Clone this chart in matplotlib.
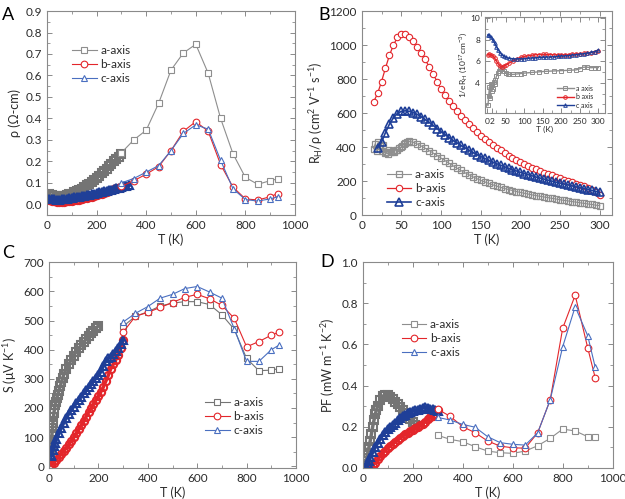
import numpy as np
import matplotlib
matplotlib.use("Agg")
import matplotlib.pyplot as plt
from matplotlib.ticker import MultipleLocator

plt.rcParams['font.family'] = ['Lato', 'DejaVu Sans']
plt.rcParams['mathtext.fontset'] = 'custom'
plt.rcParams['mathtext.rm'] = 'Lato'
plt.rcParams['mathtext.it'] = 'Lato:italic'
plt.rcParams['mathtext.default'] = 'regular'

GREY = '#8e8e8e'
GREY_D = '#747474'
RED = '#e3262b'
BLUE = '#1f3f98'
BLUE_L = '#4a6fc0'
FRAME = '#8a8a8a'
TXT = '#2b2b2b'

# ---------------- panel A: resistivity ----------------
A_T_low_a = [10, 20, 30, 40, 50, 60, 70, 80, 90, 100, 110, 120, 130, 140, 150,
             160, 170, 180, 190, 200, 210, 220, 230, 240, 250, 260, 270, 280, 290, 300]
A_rho_low_a = [0.046, 0.042, 0.039, 0.037, 0.036, 0.037, 0.039, 0.042, 0.046, 0.050,
               0.055, 0.061, 0.067, 0.073, 0.080, 0.088, 0.096, 0.105, 0.114, 0.123,
               0.133, 0.144, 0.155, 0.166, 0.178, 0.189, 0.200, 0.211, 0.222, 0.232]
A_T_low_b = A_T_low_a
A_rho_low_b = [0.018, 0.015, 0.013, 0.012, 0.011, 0.011, 0.012, 0.013, 0.014, 0.016,
               0.018, 0.020, 0.022, 0.024, 0.027, 0.030, 0.033, 0.036, 0.039, 0.042,
               0.046, 0.050, 0.054, 0.058, 0.062, 0.066, 0.070, 0.074, 0.078, 0.082]
A_T_low_c = A_T_low_a + [310, 320, 330]
A_rho_low_c = [0.026, 0.024, 0.023, 0.022, 0.022, 0.023, 0.024, 0.026, 0.028, 0.030,
               0.032, 0.034, 0.036, 0.038, 0.040, 0.042, 0.045, 0.047, 0.050, 0.052,
               0.055, 0.057, 0.060, 0.062, 0.065, 0.068, 0.071, 0.074, 0.077, 0.080,
               0.083, 0.086, 0.088]
A_T_hi = [300, 350, 400, 450, 500, 550, 600, 650, 700, 750, 800, 850, 900, 930]
A_rho_hi_a = [0.24, 0.30, 0.345, 0.47, 0.625, 0.705, 0.745, 0.61, 0.40, 0.235, 0.125, 0.093, 0.11, 0.118]
A_rho_hi_b = [0.083, 0.11, 0.14, 0.175, 0.25, 0.34, 0.385, 0.34, 0.185, 0.08, 0.025, 0.02, 0.035, 0.05]
A_rho_hi_c = [0.10, 0.12, 0.15, 0.18, 0.25, 0.33, 0.37, 0.35, 0.205, 0.072, 0.022, 0.015, 0.025, 0.035]

# ---------------- panel B: Hall mobility ----------------
B_T_a = [15, 17, 19, 21, 23, 25, 27, 29, 31, 33, 35, 37, 39, 41, 43, 45, 47, 49, 51, 53, 55, 57, 59,
         60, 65, 70, 75, 80, 85, 90, 95, 100, 105, 110, 115, 120, 125, 130, 135, 140, 145, 150,
         155, 160, 165, 170, 175, 180, 185, 190, 195, 200, 205, 210, 215, 220, 225, 230, 235,
         240, 245, 250, 255, 260, 265, 270, 275, 280, 285, 290, 295, 300]
B_mu_a = [390, 420, 378, 430, 405, 375, 410, 365, 372, 360, 382, 368, 378, 372, 385, 380, 392,
          398, 405, 415, 422, 428, 432,
          433, 428, 418, 406, 393, 379, 365, 350, 335, 320, 305, 290, 276, 262, 249, 237, 225,
          214, 204, 195, 186, 178, 170, 163, 156, 150, 144, 138, 133, 128, 123, 118, 114, 110,
          106, 102, 98, 94, 90, 86, 83, 79, 76, 72, 69, 65, 62, 58, 55]
B_T_b = [15, 20, 25, 30, 35, 40, 45, 50, 55, 60, 65, 70, 75, 80, 85, 90, 95, 100, 105, 110,
         115, 120, 125, 130, 135, 140, 145, 150, 155, 160, 165, 170, 175, 180, 185, 190, 195,
         200, 205, 210, 215, 220, 225, 230, 235, 240, 245, 250, 255, 260, 265, 270, 275, 280,
         285, 290, 295, 300]
B_mu_b = [665, 715, 785, 865, 940, 1000, 1045, 1065, 1063, 1048, 1022, 990, 955, 915, 872, 830,
          785, 740, 705, 672, 640, 610, 585, 560, 535, 512, 488, 466, 448, 430, 412, 395, 380,
          365, 350, 336, 323, 310, 299, 288, 278, 268, 259, 250, 241, 233, 225, 217, 208, 200,
          192, 185, 177, 170, 160, 150, 135, 118]
B_T_c = B_T_b[1:]
B_mu_c = [395, 430, 485, 535, 572, 597, 610, 613, 610, 602, 592, 578, 562, 545, 527, 508, 490,
          473, 456, 440, 425, 410, 396, 382, 369, 356, 344, 333, 322, 312, 302, 293, 284, 275,
          267, 259, 251, 244, 237, 230, 223, 217, 211, 205, 199, 193, 188, 182, 177, 171, 166,
          161, 156, 150, 145, 139, 133]

# inset: 1/eR_H
I_T_a = [2, 4, 6, 8, 10, 12, 14, 16, 18, 20, 22, 25, 28, 31, 35, 40, 45, 50, 55, 60, 70, 80,
         90, 100, 120, 140, 160, 180, 200, 220, 240, 250, 260, 270, 280, 290, 300]
I_n_a = [1.9, 2.8, 3.6, 2.6, 3.9, 3.2, 3.8, 3.4, 4.1, 3.9, 4.3, 4.6, 4.9, 5.1, 5.25, 5.3, 5.1,
         4.9, 4.8, 4.78, 4.78, 4.82, 4.86, 4.9, 4.96, 5.02, 5.07, 5.1, 5.13, 5.16, 5.2, 5.3,
         5.45, 5.45, 5.4, 5.42, 5.42]
I_T_bc = [2, 5, 10, 15, 20, 25, 30, 35, 40, 45, 50, 60, 70, 80, 90, 100, 110, 120, 130, 140,
          150, 160, 170, 180, 190, 200, 210, 220, 230, 240, 250, 260, 270, 280, 290, 300]
I_n_b = [6.6, 6.65, 6.6, 6.5, 6.3, 6.0, 5.75, 5.55, 5.5, 5.55, 5.65, 5.85, 6.05, 6.2, 6.35,
         6.45, 6.5, 6.55, 6.6, 6.62, 6.63, 6.63, 6.62, 6.6, 6.6, 6.6, 6.6, 6.62, 6.65, 6.68,
         6.7, 6.72, 6.75, 6.8, 6.85, 6.95]
I_n_c = [8.45, 8.4, 8.25, 8.0, 7.7, 7.35, 7.05, 6.8, 6.6, 6.45, 6.35, 6.27, 6.23, 6.22, 6.23,
         6.25, 6.27, 6.3, 6.32, 6.35, 6.37, 6.38, 6.4, 6.42, 6.45, 6.48, 6.5, 6.53, 6.57, 6.62,
         6.66, 6.7, 6.75, 6.82, 6.9, 7.05]

# ---------------- panel C: Seebeck ----------------
C_T_low_a = [4, 6, 8, 10, 12, 14, 16, 18, 20, 22, 25, 28, 31, 35, 40, 45, 50, 55, 60, 70, 80,
             90, 100, 110, 120, 130, 140, 150, 160, 170, 180, 190, 200]
C_S_low_a = [30, 50, 70, 90, 110, 130, 150, 168, 183, 196, 210, 222, 233, 245, 260, 274, 288,
             302, 315, 335, 350, 365, 380, 393, 405, 415, 425, 436, 446, 456, 465, 474, 482]
C_T_low_b = [5, 10, 20, 30, 40, 50, 60, 70, 80, 90, 100, 110, 120, 130, 140, 150, 160, 170,
             180, 190, 200, 210, 220, 230, 240, 250, 260, 270, 280, 290, 300]
C_S_low_b = [5, 6, 12, 22, 32, 42, 52, 63, 75, 87, 100, 113, 127, 141, 155, 170, 185, 200, 215,
             228, 242, 256, 272, 292, 312, 335, 350, 365, 382, 405, 435]
C_T_low_c = [8, 10, 15, 20, 25, 30, 40, 50, 60, 70, 80, 90, 100, 110, 120, 130, 140, 150, 160,
             170, 180, 190, 200, 210, 220, 230, 240, 250, 260, 270, 280, 290, 300]
C_S_low_c = [35, 40, 55, 68, 80, 92, 113, 132, 150, 166, 180, 193, 205, 217, 228, 239, 250, 261,
             272, 282, 292, 302, 312, 325, 345, 362, 370, 376, 385, 395, 407, 420, 432]
C_T_hi = [300, 350, 400, 450, 500, 550, 600, 650, 700, 750, 800, 850, 900, 930]
C_S_hi_a = [480, 515, 530, 550, 560, 565, 565, 555, 520, 470, 370, 328, 330, 335]
C_S_hi_b = [460, 515, 528, 545, 562, 580, 590, 575, 552, 508, 410, 428, 450, 460]
C_S_hi_c = [495, 525, 548, 577, 590, 610, 617, 598, 577, 472, 360, 360, 400, 415]

# ---------------- panel D: power factor ----------------
D_T_low_a = [5, 10, 15, 20, 25, 30, 35, 40, 45, 50, 55, 60, 70, 80, 90, 100, 110, 120, 130,
             140, 150, 160, 170, 180, 190, 200, 210]
D_PF_low_a = [0.0, 0.02, 0.045, 0.07, 0.10, 0.13, 0.165, 0.2, 0.23, 0.26, 0.28, 0.3, 0.33,
              0.348, 0.355, 0.352, 0.345, 0.335, 0.322, 0.31, 0.295, 0.28, 0.265, 0.25, 0.235,
              0.222, 0.21]
D_T_low_b = [30, 40, 50, 60, 70, 80, 90, 100, 110, 120, 130, 140, 150, 160, 170, 180, 190, 200,
             210, 220, 230, 240, 250, 260, 270, 280, 290, 300]
D_PF_low_b = [0.0, 0.01, 0.025, 0.04, 0.055, 0.07, 0.082, 0.095, 0.105, 0.115, 0.125, 0.135,
              0.145, 0.155, 0.163, 0.17, 0.178, 0.185, 0.193, 0.2, 0.208, 0.215, 0.222, 0.235,
              0.245, 0.25, 0.26, 0.28]
D_T_low_c = [10, 15, 20, 25, 30, 40, 50, 60, 70, 80, 90, 100, 110, 120, 130, 140, 150, 160,
             170, 180, 190, 200, 210, 220, 230, 240, 250, 260, 270, 280, 290, 300]
D_PF_low_c = [0.0, 0.01, 0.02, 0.035, 0.05, 0.075, 0.1, 0.12, 0.14, 0.16, 0.175, 0.19, 0.2,
              0.21, 0.22, 0.23, 0.24, 0.25, 0.258, 0.265, 0.27, 0.275, 0.279, 0.283, 0.287,
              0.29, 0.295, 0.292, 0.288, 0.285, 0.28, 0.275]
D_T_hi = [300, 350, 400, 450, 500, 550, 600, 650, 700, 750, 800, 850, 900, 930]
D_PF_hi_a = [0.158, 0.138, 0.127, 0.102, 0.081, 0.073, 0.07, 0.081, 0.107, 0.143, 0.188, 0.179, 0.151, 0.148]
D_PF_hi_b = [0.285, 0.25, 0.2, 0.17, 0.13, 0.105, 0.097, 0.095, 0.17, 0.33, 0.679, 0.84, 0.584, 0.438]
D_PF_hi_c = [0.245, 0.232, 0.211, 0.197, 0.151, 0.122, 0.114, 0.11, 0.17, 0.33, 0.589, 0.784, 0.643, 0.49]

labels = ['a-axis', 'b-axis', 'c-axis']
markers = ['s', 'o', '^']
colors = [GREY, RED, BLUE_L]
dense_colors = [GREY_D, RED, BLUE]


def style(ax, xmaj, xmin, ymaj, ymin, fs=8.5):
    for s in ax.spines.values():
        s.set_color(FRAME)
        s.set_linewidth(0.8)
    ax.tick_params(which='both', direction='in', top=True, right=True, color=FRAME,
                   labelcolor=TXT, labelsize=fs)
    ax.tick_params(which='major', length=3.5, width=0.7)
    ax.tick_params(which='minor', length=2, width=0.6)
    ax.xaxis.set_major_locator(MultipleLocator(xmaj))
    ax.xaxis.set_minor_locator(MultipleLocator(xmin))
    ax.yaxis.set_major_locator(MultipleLocator(ymaj))
    ax.yaxis.set_minor_locator(MultipleLocator(ymin))


def dense(ax, T, v, c, m, ms=5.2):
    # measured low-T series: overlapping open symbols look like a thick band
    ax.plot(T, v, color=c, lw=2.5, marker=m, ms=ms, mfc='none', mec=c, mew=1.5)


def hi(ax, T, v, c, m, lab, ms=4.8):
    ax.plot(T, v, color=c, lw=0.8, marker=m, ms=ms, mfc='white', mec=c, mew=0.8, label=lab)


def legend(ax, x0, yc, fs=8.5):
    ax.legend(loc='center left', bbox_to_anchor=(x0, yc), frameon=False, fontsize=fs,
              borderpad=0, borderaxespad=0, handlelength=2.1, handletextpad=0.3,
              labelspacing=0.25, labelcolor=TXT)


fig = plt.figure(figsize=(6.25, 4.99), dpi=100)

# A
axA = fig.add_axes([0.0752, 0.5691, 0.3968, 0.4088])
for T, v, c, m in zip([A_T_low_a, A_T_low_b, A_T_low_c], [A_rho_low_a, A_rho_low_b, A_rho_low_c],
                      dense_colors, markers):
    dense(axA, T, v, c, m)
for v, c, m, lab in zip([A_rho_hi_a, A_rho_hi_b, A_rho_hi_c], colors, markers, labels):
    hi(axA, A_T_hi, v, c, m, lab)
axA.set_xlim(0, 1000)
axA.set_ylim(-0.05, 0.9)
style(axA, 200, 100, 0.1, 0.05)
axA.set_xlabel('T (K)', fontsize=9, color=TXT, labelpad=2)
axA.set_ylabel('ρ (Ω-cm)', fontsize=9, color=TXT, labelpad=3)
legend(axA, 0.1, 0.739)

# B
axB = fig.add_axes([0.5787, 0.5691, 0.4, 0.4088])
axB.plot(B_T_a, B_mu_a, color=GREY, lw=0.8, marker='s', ms=4.3, mfc='none', mec=GREY, mew=0.9,
         label='a-axis')
axB.plot(B_T_b, B_mu_b, color=RED, lw=0.9, marker='o', ms=4.6, mfc='white', mec=RED, mew=0.8,
         label='b-axis')
axB.plot(B_T_c, B_mu_c, color=BLUE, lw=1.2, marker='^', ms=5.4, mfc='none', mec=BLUE, mew=1.2,
         label='c-axis')
axB.set_xlim(0, 315)
axB.set_ylim(0, 1200)
style(axB, 50, 25, 200, 100)
axB.set_xlabel('T (K)', fontsize=9, color=TXT, labelpad=2)
axB.set_ylabel(r'R$_H$/ρ (cm$^2$ V$^{-1}$ s$^{-1}$)', fontsize=9, color=TXT, labelpad=3)
legend(axB, 0.1, 0.131)

# inset
axI = fig.add_axes([0.776, 0.7735, 0.192, 0.1924])
for T, v, c, m, lab in zip([I_T_a, I_T_bc, I_T_bc], [I_n_a, I_n_b, I_n_c], [GREY, RED, BLUE],
                           markers, ['a axis', 'b axis', 'c axis']):
    axI.plot(T, v, color=c, lw=1.0, marker=m, ms=2.6, mfc='none', mec=c, mew=0.7, label=lab)
axI.set_xlim(-6, 318)
axI.set_ylim(1.2, 10.1)
style(axI, 50, 25, 2, 1, fs=6)
axI.set_xticks([0, 13, 50, 100, 150, 200, 250, 300])
axI.set_xticklabels(['0', '2', '50', '100', '150', '200', '250', '300'])
axI.set_yticks([4, 6, 8, 10])
axI.set_xlabel('T (K)', fontsize=6, color=TXT, labelpad=1)
axI.set_ylabel(r'1/eR$_H$ (10$^{17}$cm$^{-3}$)', fontsize=6, color=TXT, labelpad=1)
axI.legend(loc='center left', bbox_to_anchor=(0.6, 0.17), frameon=False, fontsize=5,
           borderpad=0, borderaxespad=0, handlelength=2.4, handletextpad=0.3,
           labelspacing=0.2, labelcolor=TXT)

# C
axC = fig.add_axes([0.0784, 0.0627, 0.3952, 0.4116])
for T, v, c, m in zip([C_T_low_a, C_T_low_b, C_T_low_c], [C_S_low_a, C_S_low_b, C_S_low_c],
                      dense_colors, markers):
    dense(axC, T, v, c, m)
for v, c, m, lab in zip([C_S_hi_a, C_S_hi_b, C_S_hi_c], [GREY_D, RED, BLUE_L], markers, labels):
    hi(axC, C_T_hi, v, c, m, lab)
axC.set_xlim(0, 1000)
axC.set_ylim(-5, 700)
style(axC, 200, 100, 100, 50)
axC.set_xlabel('T (K)', fontsize=9, color=TXT, labelpad=2)
axC.set_ylabel(r'S (μV K$^{-1}$)', fontsize=9, color=TXT, labelpad=3)
legend(axC, 0.632, 0.248)

# D
axD = fig.add_axes([0.5803, 0.0627, 0.4, 0.4116])
for T, v, c, m in zip([D_T_low_a, D_T_low_b, D_T_low_c], [D_PF_low_a, D_PF_low_b, D_PF_low_c],
                      dense_colors, markers):
    dense(axD, T, v, c, m)
for v, c, m, lab in zip([D_PF_hi_a, D_PF_hi_b, D_PF_hi_c], colors, markers, labels):
    hi(axD, D_T_hi, v, c, m, lab)
axD.set_xlim(0, 1000)
axD.set_ylim(0, 1.0)
style(axD, 200, 100, 0.2, 0.1)
axD.set_xlabel('T (K)', fontsize=9, color=TXT, labelpad=2)
axD.set_ylabel(r'PF (mW m$^{-1}$ K$^{-2}$)', fontsize=9, color=TXT, labelpad=3)
legend(axD, 0.156, 0.627)

for lab, x, y in [('A', 0.003, 0.985), ('B', 0.510, 0.985), ('C', 0.003, 0.51), ('D', 0.512, 0.49)]:
    fig.text(x, y, lab, fontsize=13, color='black', va='top', ha='left')

fig.savefig('out.png', dpi=100)
